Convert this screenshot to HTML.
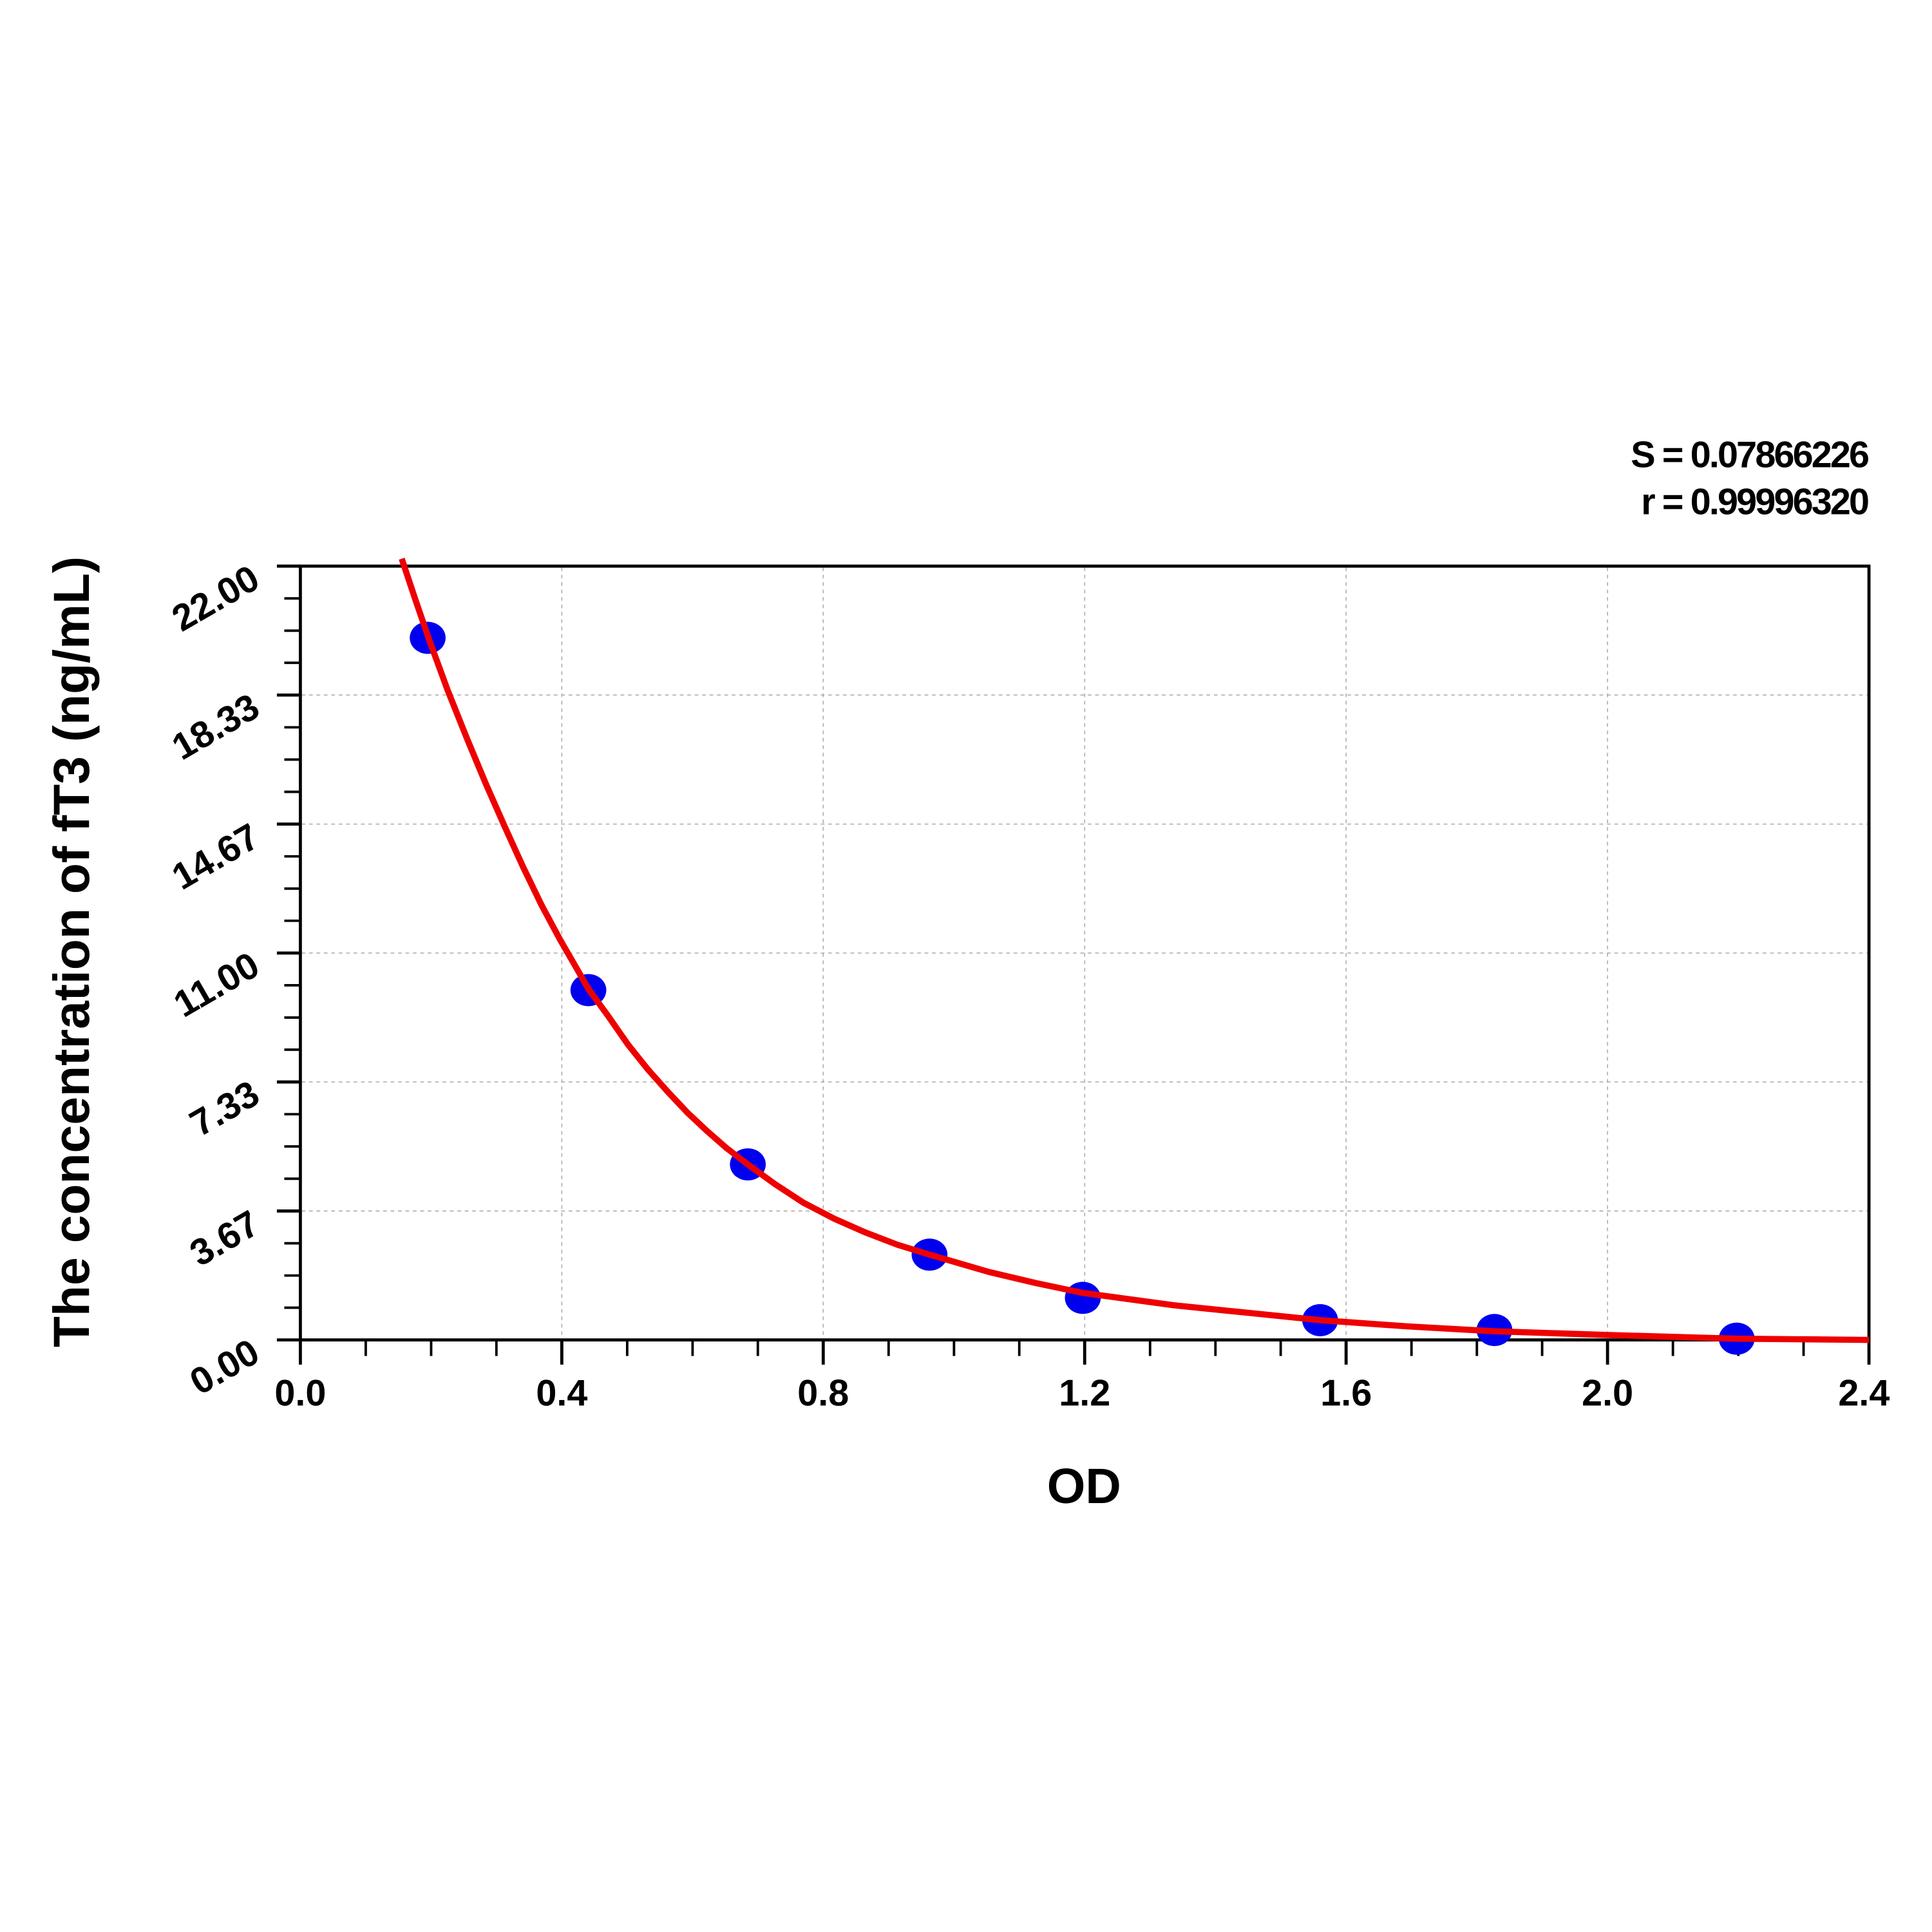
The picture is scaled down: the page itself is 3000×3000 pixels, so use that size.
<!DOCTYPE html>
<html><head><meta charset="utf-8"><style>html,body{margin:0;padding:0;background:#fff}svg{display:block}</style></head>
<body>
<svg width="3000" height="3000" viewBox="0 0 1563 1563" xmlns="http://www.w3.org/2000/svg" font-family="Liberation Sans, Arial, sans-serif" font-weight="bold">
<rect width="1563" height="1563" fill="#fff"/>
<g stroke="#aaa" stroke-width="0.8" stroke-dasharray="3,3">
<line x1="454.5" y1="459" x2="454.5" y2="1083"/>
<line x1="666" y1="459" x2="666" y2="1083"/>
<line x1="877.5" y1="459" x2="877.5" y2="1083"/>
<line x1="1089" y1="459" x2="1089" y2="1083"/>
<line x1="1300.5" y1="459" x2="1300.5" y2="1083"/>
<line x1="244" y1="562.3" x2="1511" y2="562.3"/>
<line x1="244" y1="666.7" x2="1511" y2="666.7"/>
<line x1="244" y1="771" x2="1511" y2="771"/>
<line x1="244" y1="875.3" x2="1511" y2="875.3"/>
<line x1="244" y1="979.7" x2="1511" y2="979.7"/>
</g>
<rect x="243" y="458" width="1269" height="626" fill="none" stroke="#000" stroke-width="2.5"/>
<g stroke="#000" stroke-width="2.5">
<line x1="224" y1="458" x2="243" y2="458"/><line x1="224" y1="562.3" x2="243" y2="562.3"/><line x1="224" y1="666.7" x2="243" y2="666.7"/><line x1="224" y1="771" x2="243" y2="771"/><line x1="224" y1="875.3" x2="243" y2="875.3"/><line x1="224" y1="979.7" x2="243" y2="979.7"/><line x1="224" y1="1084" x2="243" y2="1084"/>
<line x1="243" y1="1084" x2="243" y2="1104"/><line x1="454.5" y1="1084" x2="454.5" y2="1104"/><line x1="666" y1="1084" x2="666" y2="1104"/><line x1="877.5" y1="1084" x2="877.5" y2="1104"/><line x1="1089" y1="1084" x2="1089" y2="1104"/><line x1="1300.5" y1="1084" x2="1300.5" y2="1104"/><line x1="1512" y1="1084" x2="1512" y2="1104"/>
</g>
<g stroke="#000" stroke-width="2">
<line x1="230" y1="484.1" x2="243" y2="484.1"/><line x1="230" y1="510.2" x2="243" y2="510.2"/><line x1="230" y1="536.2" x2="243" y2="536.2"/>
<line x1="230" y1="588.4" x2="243" y2="588.4"/><line x1="230" y1="614.5" x2="243" y2="614.5"/><line x1="230" y1="640.6" x2="243" y2="640.6"/>
<line x1="230" y1="692.8" x2="243" y2="692.8"/><line x1="230" y1="718.9" x2="243" y2="718.9"/><line x1="230" y1="744.9" x2="243" y2="744.9"/>
<line x1="230" y1="797.1" x2="243" y2="797.1"/><line x1="230" y1="823.2" x2="243" y2="823.2"/><line x1="230" y1="849.2" x2="243" y2="849.2"/>
<line x1="230" y1="901.4" x2="243" y2="901.4"/><line x1="230" y1="927.5" x2="243" y2="927.5"/><line x1="230" y1="953.6" x2="243" y2="953.6"/>
<line x1="230" y1="1005.8" x2="243" y2="1005.8"/><line x1="230" y1="1031.9" x2="243" y2="1031.9"/><line x1="230" y1="1057.9" x2="243" y2="1057.9"/>
<line x1="295.9" y1="1084" x2="295.9" y2="1097"/><line x1="348.8" y1="1084" x2="348.8" y2="1097"/><line x1="401.6" y1="1084" x2="401.6" y2="1097"/>
<line x1="507.4" y1="1084" x2="507.4" y2="1097"/><line x1="560.3" y1="1084" x2="560.3" y2="1097"/><line x1="613.1" y1="1084" x2="613.1" y2="1097"/>
<line x1="718.9" y1="1084" x2="718.9" y2="1097"/><line x1="771.8" y1="1084" x2="771.8" y2="1097"/><line x1="824.6" y1="1084" x2="824.6" y2="1097"/>
<line x1="930.4" y1="1084" x2="930.4" y2="1097"/><line x1="983.3" y1="1084" x2="983.3" y2="1097"/><line x1="1036.1" y1="1084" x2="1036.1" y2="1097"/>
<line x1="1141.9" y1="1084" x2="1141.9" y2="1097"/><line x1="1194.8" y1="1084" x2="1194.8" y2="1097"/><line x1="1247.6" y1="1084" x2="1247.6" y2="1097"/>
<line x1="1353.4" y1="1084" x2="1353.4" y2="1097"/><line x1="1406.3" y1="1084" x2="1406.3" y2="1097"/><line x1="1459.1" y1="1084" x2="1459.1" y2="1097"/>
</g>
<g font-size="30" text-anchor="middle" fill="#000">
<text x="243" y="1137">0.0</text><text x="454.5" y="1137">0.4</text><text x="666" y="1137">0.8</text><text x="877.5" y="1137">1.2</text><text x="1089" y="1137">1.6</text><text x="1300.5" y="1137">2.0</text><text x="1508" y="1137">2.4</text>
</g>
<g font-size="30" text-anchor="end" fill="#000">
<text transform="translate(212,474) rotate(-30)">22.00</text>
<text transform="translate(212,578) rotate(-30)">18.33</text>
<text transform="translate(212,683) rotate(-30)">14.67</text>
<text transform="translate(212,787) rotate(-30)">11.00</text>
<text transform="translate(212,891) rotate(-30)">7.33</text>
<text transform="translate(212,996) rotate(-30)">3.67</text>
<text transform="translate(212,1100) rotate(-30)">0.00</text>
</g>
<text x="877" y="1216" font-size="40" text-anchor="middle">OD</text>
<text transform="translate(72,770) rotate(-90)" font-size="41" text-anchor="middle">The concentration of fT3 (ng/mL)</text>
<g font-size="30" text-anchor="end" letter-spacing="-1.5">
<text x="1511" y="378">S = 0.07866226</text>
<text x="1511" y="416">r = 0.99996320</text>
</g>
<g fill="#0000ee">
<ellipse cx="346" cy="516" rx="14.5" ry="13"/><ellipse cx="476" cy="801" rx="14.5" ry="13"/><ellipse cx="605" cy="942" rx="14.5" ry="13"/><ellipse cx="752" cy="1015" rx="14.5" ry="13"/><ellipse cx="876" cy="1050" rx="14.5" ry="13"/><ellipse cx="1068" cy="1068" rx="14.5" ry="13"/><ellipse cx="1209" cy="1076" rx="14.5" ry="13"/><ellipse cx="1405" cy="1083" rx="14.5" ry="13"/>
</g>
<polyline fill="none" stroke="#ee0000" stroke-width="5" stroke-linejoin="round" points="325,452 336,485 347,517 362,558 378,598 393,634 408,668 423,701 438,732 453,760 468,786 476,800 492,822 508,845 524,865 540,883 556,900 572,915 588,929 605,942 627,958 650,973 675,986 700,997 726,1007 752,1015 776,1022 800,1029 838,1038 876,1046 913,1051 950,1056 1009,1062 1068,1068 1138,1073 1209,1077 1300,1080 1405,1083 1512,1084"/>
</svg>
</body></html>
